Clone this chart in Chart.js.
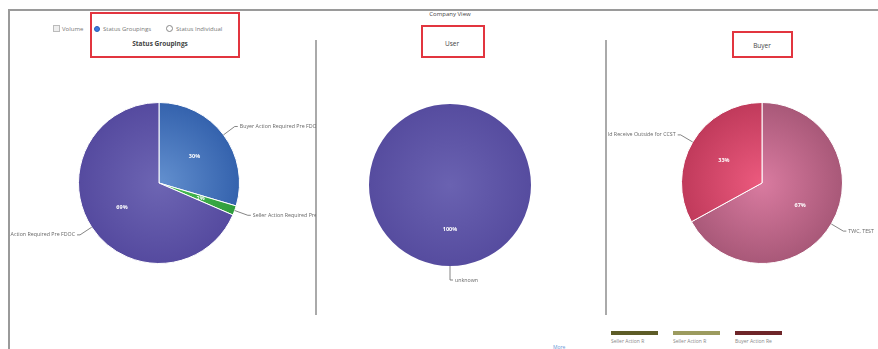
<!DOCTYPE html>
<html>
<head>
<meta charset="utf-8">
<title>Company View</title>
<script src="https://cdn.jsdelivr.net/npm/chart.js@4.4.1/dist/chart.umd.min.js"></script>
<style>
  html, body { margin:0; padding:0; background:#fff; }
  #page { position:relative; width:878px; height:349px; overflow:hidden; font-family:"Open Sans", Arial, sans-serif; color:#555; }
  .abs { position:absolute; }
  .frameTop { left:8px; top:9px; width:870px; height:2px; background:#9a9a9a; }
  .frameLeft { left:8px; top:9px; width:2px; height:340px; background:#9a9a9a; }
  .divider { top:40px; width:1.5px; height:275px; background:#aaa; }
  .redBox { border:2px solid #e2353f; box-sizing:border-box; }
  .title { font-size:6.5px; white-space:nowrap; transform:translateX(-50%); }
  .ctrl { font-size:6px; color:#777; white-space:nowrap; top:25px; }
  .legendBar { top:331px; width:47px; height:4px; }
  .legendTxt { top:338px; font-size:5px; color:#888; white-space:nowrap; }
  canvas { position:absolute; }
</style>
</head>
<body>
<div id="page">
  <div class="abs frameTop"></div>
  <div class="abs frameLeft"></div>
  <div class="abs divider" style="left:315px"></div>
  <div class="abs divider" style="left:605px"></div>

  <div class="abs title" style="left:450px;top:10px;font-size:6px;color:#444">Company View</div>

  <!-- mode controls -->
  <div class="abs ctrl" style="left:53px"><span style="display:inline-block;width:5px;height:5px;border:1px solid #bbb;background:#eee;vertical-align:-1px"></span></div>
  <div class="abs ctrl" style="left:62px">Volume</div>
  <div class="abs ctrl" style="left:94px"><span style="display:inline-block;width:4px;height:4px;border-radius:50%;background:#3a7ae0;border:1px solid #2a5fb5;vertical-align:-1px"></span></div>
  <div class="abs ctrl" style="left:103px">Status Groupings</div>
  <div class="abs ctrl" style="left:166px"><span style="display:inline-block;width:5px;height:5px;border-radius:50%;border:1px solid #888;vertical-align:-1px"></span></div>
  <div class="abs ctrl" style="left:176px">Status Individual</div>

  <div class="abs title" style="left:160px;top:39px;font-weight:bold;color:#444">Status Groupings</div>
  <div class="abs title" style="left:452px;top:39px;color:#444">User</div>
  <div class="abs title" style="left:762px;top:41px;color:#444">Buyer</div>

  <canvas id="pie1" width="307" height="176" style="left:9px;top:95px"></canvas>
  <canvas id="pie2" width="288" height="200" style="left:317px;top:95px"></canvas>
  <canvas id="pie3" width="270" height="176" style="left:608px;top:95px"></canvas>

  <div id="legend"></div>
  <div class="abs" style="left:553px;top:344px;font-size:5px;color:#6a9ad8">More</div>

  <div class="abs redBox" style="left:90px;top:12px;width:150px;height:46px"></div>
  <div class="abs redBox" style="left:421px;top:25px;width:64px;height:33px"></div>
  <div class="abs redBox" style="left:732px;top:31px;width:61px;height:27px"></div>
</div>

<script>
/* ---- data ---- */
const groupLabels = ['Buyer Action Required Pre FDOC', 'Seller Action Required Pre FDOC', 'Title Action Required Pre FDOC'];
const groupValues = [29.6, 1.9, 68.5];

const userLabels = ['unknown'];
const userValues = [1];

const buyerLabels = ['TWC, TEST', 'Hold Receive Outside for CCST'];
const buyerValues = [67, 33];

const legendLabels = ['Seller Action R', 'Seller Action R', 'Buyer Action Re'];
const legendColors = ['#5d5c27', '#9c9b5f', '#6e2529'];

/* colour pairs: centre, edge */
const groupColors = [['#6390cf', '#3462ad'], ['#4cc257', '#2f9c3b'], ['#6d65b3', '#554a9f']];
const userColors = [['#6a62b1', '#564c9f']];
const buyerColors = [['#d97ba0', '#a85878'], ['#ec5a7e', '#c03a5b']];

/* bottom legend */
const legendEl = document.getElementById('legend');
legendLabels.forEach((txt, i) => {
  const left = 611 + i * 62;
  legendEl.insertAdjacentHTML('beforeend',
    `<div class="abs legendBar" style="left:${left}px;background:${legendColors[i]}"></div>` +
    `<div class="abs legendTxt" style="left:${left}px">${txt}</div>`);
});

function radial(pairs){
  return (ctx) => {
    const chart = ctx.chart;
    const area = chart.chartArea;
    const pair = pairs[ctx.dataIndex % pairs.length];
    if(!area) return pair[1];
    const cx = (area.left + area.right) / 2;
    const cy = (area.top + area.bottom) / 2;
    const r = Math.min(area.width, area.height) / 2;
    const g = chart.ctx.createRadialGradient(cx, cy, 0, cx, cy, r);
    g.addColorStop(0, pair[0]);
    g.addColorStop(1, pair[1]);
    return g;
  };
}

/* outside labels with connector lines + percent inside */
const pieLabels = {
  id: 'pieLabels',
  afterDatasetsDraw(chart){
    const ctx = chart.ctx;
    const meta = chart.getDatasetMeta(0);
    const values = chart.data.datasets[0].data;
    const total = values.reduce((s, v) => s + v, 0);
    ctx.save();
    meta.data.forEach((arc, i) => {
      const p = arc.getProps(['x', 'y', 'startAngle', 'endAngle', 'outerRadius'], true);
      const mid = (p.startAngle + p.endAngle) / 2;
      const cos = Math.cos(mid), sin = Math.sin(mid);
      const r = p.outerRadius;

      // percent
      const pct = Math.round(values[i] / total * 100) + '%';
      ctx.fillStyle = '#fff';
      ctx.font = 'bold 5.5px "Open Sans", Arial, sans-serif';
      ctx.textAlign = 'center';
      ctx.textBaseline = 'middle';
      ctx.fillText(pct, p.x + cos * r * 0.55, p.y + sin * r * 0.55);

      // connector
      const right = cos >= -0.01;
      const x0 = p.x + cos * r, y0 = p.y + sin * r;
      const x1 = p.x + cos * (r + 14), y1 = p.y + sin * (r + 14);
      const x2 = x1 + (right ? 3 : -3);
      ctx.strokeStyle = '#666';
      ctx.lineWidth = 0.8;
      ctx.beginPath();
      ctx.moveTo(x0, y0);
      ctx.lineTo(x1, y1);
      ctx.lineTo(x2, y1);
      ctx.stroke();

      ctx.fillStyle = '#666';
      ctx.font = '5.3px "Open Sans", Arial, sans-serif';
      ctx.textAlign = right ? 'left' : 'right';
      ctx.fillText(chart.data.labels[i], x2 + (right ? 2 : -2), y1);
    });
    ctx.restore();
  }
};

function makePie(id, labels, values, colors, padding){
  return new Chart(document.getElementById(id), {
    type: 'pie',
    data: { labels, datasets: [{ data: values, backgroundColor: radial(colors), borderColor: '#fff', borderWidth: values.length > 1 ? 1 : 0 }] },
    options: {
      responsive: false,
      animation: false,
      devicePixelRatio: 1,
      layout: { padding },
      plugins: { legend: { display: false }, tooltip: { enabled: false } }
    },
    plugins: [pieLabels]
  });
}

makePie('pie1', groupLabels, groupValues, groupColors, { top: 7, bottom: 7, left: 0, right: 7 });
makePie('pie2', userLabels, userValues, userColors, { top: 9, bottom: 29, left: 0, right: 22 });
makePie('pie3', buyerLabels, buyerValues, buyerColors, { top: 7, bottom: 7, left: 38, right: 0 });
</script>
</body>
</html>
